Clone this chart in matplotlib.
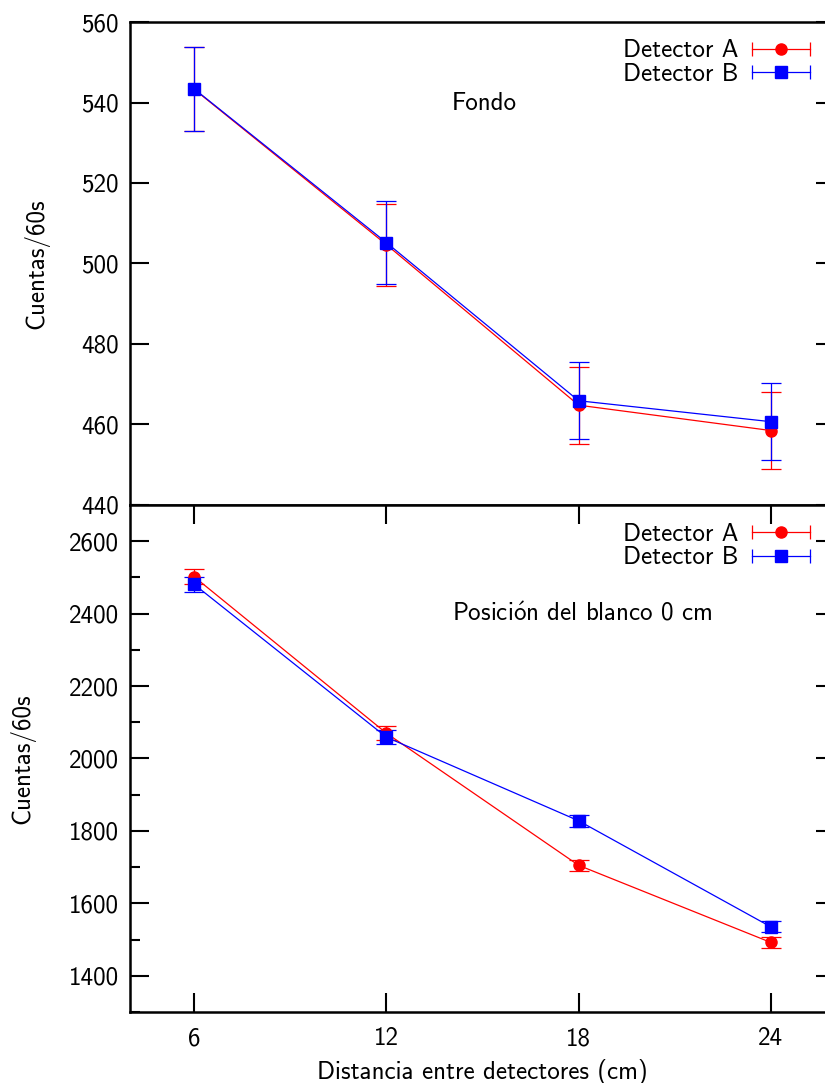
import matplotlib
matplotlib.use("Agg")
import matplotlib.pyplot as plt
from matplotlib.lines import Line2D
from matplotlib.ticker import MultipleLocator

plt.rcParams['font.family'] = ['cmss10', 'DejaVu Sans']
plt.rcParams['mathtext.fontset'] = 'cm'
plt.rcParams['axes.unicode_minus'] = False

distancias = [6, 12, 18, 24]

# Fondo
fondo_a = [543.3, 504.7, 464.8, 458.5]
fondo_a_err = [10.4, 10.2, 9.6, 9.6]
fondo_b = [543.4, 505.2, 465.9, 460.7]
fondo_b_err = [10.4, 10.3, 9.6, 9.5]

# Posicion del blanco 0 cm
blanco_a = [2502, 2070, 1705, 1492]
blanco_a_err = [20, 20, 16, 16]
blanco_b = [2481, 2059, 1828, 1535]
blanco_b_err = [20, 19, 16, 15]

RED = '#ff0000'
BLUE = '#0000ff'
FS = 18


class ErrHandler:
    def legend_artist(self, legend, orig_handle, fontsize, handlebox):
        x0, y0 = handlebox.xdescent, handlebox.ydescent
        w, h = handlebox.width, handlebox.height
        ym = y0 + h / 2
        c = orig_handle.get_color()
        tr = handlebox.get_transform()
        line = Line2D([x0, x0 + w], [ym, ym], color=c, lw=0.9)
        caps = Line2D([x0, x0 + w], [ym, ym], ls='none', marker='|', ms=10,
                      mew=0.9, color=c)
        mk = Line2D([x0 + w / 2], [ym], ls='none', marker=orig_handle.get_marker(),
                    ms=8, color=c)
        for a in (line, caps, mk):
            a.set_transform(tr)
            handlebox.add_artist(a)
        return line


fig = plt.figure(figsize=(8.25, 10.83), dpi=100)
W, H = 825, 1083
left, right = 130, 835
ax1 = fig.add_axes([left / W, (H - 505) / H, (right - left) / W, 483 / H])
ax2 = fig.add_axes([left / W, (H - 1012) / H, (right - left) / W, 507 / H])


def draw(ax, ya, ea, yb, eb):
    ax.errorbar(distancias, ya, yerr=ea, color=RED, marker='o', ms=8,
                lw=0.9, elinewidth=0.9, capsize=7, capthick=0.9)
    ax.errorbar(distancias, yb, yerr=eb, color=BLUE, marker='s', ms=8,
                lw=0.9, elinewidth=0.9, capsize=7, capthick=0.9)
    handles = [Line2D([], [], color=RED, marker='o'),
               Line2D([], [], color=BLUE, marker='s')]
    ax.legend(handles, ['Detector A', 'Detector B'], loc='upper right',
              frameon=False, markerfirst=False, fontsize=FS,
              handler_map={Line2D: ErrHandler()}, handlelength=2.3,
              handletextpad=0.55, labelspacing=0.03, borderaxespad=0.1,
              bbox_to_anchor=(0.982, 0.99))
    ax.set_xlim(4, 26)
    for s in ax.spines.values():
        s.set_linewidth(1.8)
    ax.tick_params(axis='both', which='both', direction='in', labelsize=FS,
                   right=True, width=1.5)
    ax.tick_params(axis='both', which='major', length=14)
    ax.tick_params(axis='both', which='minor', length=7)
    ax.tick_params(axis='y', pad=8)
    ax.set_xticks(distancias)


draw(ax1, fondo_a, fondo_a_err, fondo_b, fondo_b_err)
ax1.set_ylim(440, 560)
ax1.set_yticks(range(440, 561, 20))
ax1.tick_params(axis='x', bottom=False, labelbottom=False)
ax1.set_ylabel('Cuentas/60s', fontsize=FS)
ax1.yaxis.set_label_coords(-0.115, 0.5)
ax1.text(0.457, 0.832, 'Fondo', transform=ax1.transAxes, fontsize=FS,
         ha='left', va='center')

draw(ax2, blanco_a, blanco_a_err, blanco_b, blanco_b_err)
ax2.set_ylim(1300, 2700)
ax2.set_yticks(range(1400, 2601, 200))
ax2.yaxis.set_minor_locator(MultipleLocator(100))
ax2.tick_params(axis='x', top=True, pad=11)
ax2.set_ylabel('Cuentas/60s', fontsize=FS)
ax2.yaxis.set_label_coords(-0.134, 0.5)
ax2.set_xlabel('Distancia entre detectores (cm)', fontsize=FS, labelpad=6)
ax2.text(0.457, 0.785, r'Posici$\acute{\mathsf{o}}$n del blanco 0 cm',
         transform=ax2.transAxes, fontsize=FS, ha='left', va='center')

fig.savefig('out.png', dpi=100)
